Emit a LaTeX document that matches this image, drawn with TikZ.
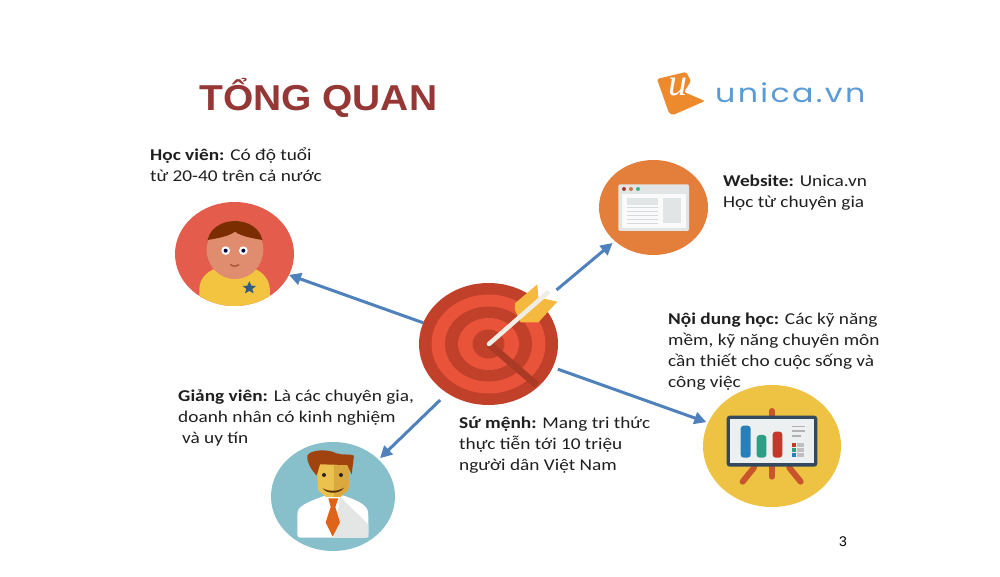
\documentclass[tikz,border=0pt]{standalone}
\usepackage{fontspec}
\setmainfont[FakeStretch=1.17]{Carlito}
\newfontfamily\titlefont[FakeStretch=1.082]{Liberation Sans}
\newfontfamily\pagefont{Liberation Sans}
\newfontfamily\logofont[LetterSpace=9,FakeStretch=1.22]{Poppins}
\newfontfamily\logoufont{Liberation Serif}
\usetikzlibrary{arrows.meta,shapes.geometric}
\definecolor{arrowblue}{HTML}{4F81BD}
\definecolor{titlered}{HTML}{953735}
\definecolor{cperson}{HTML}{E35C4C}
\definecolor{cweb}{HTML}{E37F3B}
\definecolor{cdark}{HTML}{C0402A}
\definecolor{clight}{HTML}{E8533A}
\definecolor{cshadow}{HTML}{AB3A25}
\definecolor{cteach}{HTML}{87BFCB}
\definecolor{cyel}{HTML}{EEC242}
\definecolor{cshirt}{HTML}{F2C440}
\definecolor{cskin}{HTML}{E08C6E}
\definecolor{chair}{HTML}{7A2E00}
\definecolor{cmouth}{HTML}{AA553C}
\definecolor{cstar}{HTML}{2F5F7F}
\definecolor{cwin}{HTML}{E2E5E6}
\definecolor{cwinw}{HTML}{FAFAFA}
\definecolor{cline}{HTML}{D7DADC}
\definecolor{dred}{HTML}{B03A2E}
\definecolor{dor}{HTML}{D2783C}
\definecolor{dgr}{HTML}{3CB48C}
\definecolor{cfeather}{HTML}{F5B93F}
\definecolor{cshaft}{HTML}{F0EDE6}
\definecolor{cshade}{HTML}{E4E6E6}
\definecolor{cface}{HTML}{ECC24E}
\definecolor{cfaced}{HTML}{DAA83E}
\definecolor{chair2}{HTML}{A0430F}
\definecolor{csmile}{HTML}{5A320A}
\definecolor{ctie}{HTML}{E0631A}
\definecolor{cleg}{HTML}{C8552B}
\definecolor{cboard}{HTML}{34495E}
\definecolor{cscreen}{HTML}{ECF0F1}
\definecolor{cbarb}{HTML}{2980B9}
\definecolor{cbarg}{HTML}{2F9E85}
\definecolor{cbarr}{HTML}{C0392B}
\definecolor{clogo}{HTML}{EE8A2E}
\definecolor{clogot}{HTML}{5B9BD5}
\tikzset{
  disc/.style={ellipse,inner sep=0pt,outer sep=0pt,fill=#1},
  link/.style={draw=arrowblue,line width=3pt,-{Triangle[length=12pt,width=12pt]}},
  note/.style={anchor=north west,align=left,inner sep=0pt,font=\fontsize{16.5}{20.8}\selectfont,text=black!88},
  zoomed/.style={x=0.3333pt,y=-0.3333pt}
}
\begin{document}
\begin{tikzpicture}[x=1pt,y=-1pt]
\useasboundingbox (0,0) rectangle (1000,577);
\fill[white] (0,0) rectangle (1000,577);

\node[anchor=base west,inner sep=0pt,text=titlered,font=\titlefont\bfseries\fontsize{36}{36}\selectfont] (title) at (199,110.5) {TỔNG QUAN};

% logo
\fill[clogo,rounded corners=1.5pt] (657,79) -- (686,72) -- (691,81) -- (684,92) -- (705,101) -- (673,115) -- (669,113) -- cycle;
\node[inner sep=0pt,text=white,font=\logoufont\itshape\fontsize{38}{38}\selectfont] (logou) at (678,87) {u};
\node[anchor=base west,inner sep=0pt,text=clogot,font=\logofont\fontsize{26}{26}\selectfont] (logo) at (715,103) {unica.vn};

% discs
\node[disc=cperson,minimum width=119pt,minimum height=104pt] (person) at (234.5,254) {};
\node[disc=cweb,minimum width=109pt,minimum height=95pt] (website) at (653.5,207.5) {};
\node[disc=cdark,minimum width=139pt,minimum height=122pt] (target) at (488.5,344) {};
\node[disc=cteach,minimum width=124pt,minimum height=109pt] (teacher) at (333,496.5) {};
\node[disc=cyel,minimum width=138pt,minimum height=122pt] (chart) at (772,446) {};

% person icon
\begin{scope}
\clip (234.5,254) ellipse [x radius=59.5,y radius=52];
\begin{scope}[shift={(160,190)},zoomed]
\fill[cshirt] (118,350) -- (118,295) .. controls (120,260) and (150,235) .. (185,232) -- (270,232) .. controls (305,240) and (328,265) .. (330,300) -- (330,350) -- cycle;
\fill[cskin] (225,180) ellipse [x radius=85,y radius=87];
\fill[chair] (143,150) .. controls (150,115) and (185,93) .. (225,93) .. controls (265,93) and (300,115) .. (307,150) .. controls (280,145) and (245,140) .. (225,125) .. controls (205,140) and (170,145) .. (143,150) -- cycle;
\fill[white] (197,182) circle [radius=13];
\fill[white] (250,182) circle [radius=13];
\fill[black!75!blue] (197,182) circle [radius=6];
\fill[black!75!blue] (250,182) circle [radius=6];
\draw[cmouth,line width=1.4pt,line cap=round] (212,224) .. controls (220,230) and (228,230) .. (236,224);
\fill[cstar] (268,274) -- (274,287) -- (288,288) -- (277,297) -- (281,310) -- (268,303) -- (255,310) -- (259,297) -- (248,288) -- (262,287) -- cycle;
\end{scope}
\end{scope}

% website icon
\begin{scope}[shift={(590,150)},zoomed]
\fill[cwin,rounded corners=2pt] (85,103) rectangle (297,243);
\fill[cwinw] (95,133) rectangle (287,233);
\fill[dred] (102,117) circle [radius=6];
\fill[dor] (123,117) circle [radius=6];
\fill[dgr] (144,117) circle [radius=6];
\fill[cwin] (110,145) rectangle (205,165);
\fill[cwin] (220,145) rectangle (273,220);
\foreach \yy in {172,183,194,206,218}{\fill[cline] (110,\yy) rectangle (205,\yy+3);}
\end{scope}

% target icon
\fill[clight] (488.5,344) ellipse [x radius=57,y radius=49.5];
\fill[cdark] (488.5,344) ellipse [x radius=43.5,y radius=37.5];
\fill[clight] (488.5,344) ellipse [x radius=30.5,y radius=26];
\fill[cdark] (488.5,344) ellipse [x radius=16,y radius=14.5];
\begin{scope}[shift={(400,260)},zoomed]
\draw[cshadow,line width=7pt] (267,252) -- (410,375);
\fill[cfeather] (345,130) -- (412,73) -- (415,112) -- (472,125) -- (415,187) -- (362,187) -- (345,150) -- cycle;
\draw[cshaft,line width=4.5pt,line cap=round] (267,252) -- (443,98);
\end{scope}

% teacher icon
\begin{scope}[shift={(260,435)},zoomed]
\fill[white,rounded corners=3pt] (112,308) -- (112,240) .. controls (115,210) and (160,195) .. (200,180) -- (245,180) .. controls (290,195) and (322,210) .. (325,240) -- (325,308) -- cycle;
\fill[cshade] (240,185) -- (325,268) -- (325,308) -- (222,308) -- cycle;
\fill[cface] (170,85) -- (270,85) -- (265,165) -- (240,186) -- (198,186) -- (174,165) -- cycle;
\fill[cfaced] (222,85) -- (270,85) -- (265,165) -- (240,186) -- (222,186) -- cycle;
\fill[chair2] (142,62) .. controls (150,45) and (200,40) .. (230,55) .. controls (250,62) and (270,55) .. (282,62) -- (275,118) -- (262,90) -- (180,88) -- (170,122) .. controls (155,105) and (140,85) .. (142,62) -- cycle;
\fill[black!85] (192,120) circle [radius=6];
\fill[black!85] (243,120) circle [radius=6];
\fill[csmile] (188,160) .. controls (205,170) and (235,170) .. (252,158) .. controls (240,178) and (200,178) .. (188,160) -- cycle;
\fill[ctie] (205,190) -- (235,190) -- (226,216) -- (240,262) -- (218,305) -- (197,262) -- (212,216) -- cycle;
\end{scope}

% chart icon
\begin{scope}[shift={(690,375)},zoomed]
\begin{scope}[cleg,line width=6pt,line cap=round]
\draw (245,108) -- (245,125);
\draw (245,270) -- (245,305);
\draw (192,278) -- (158,320);
\draw (298,278) -- (332,320);
\end{scope}
\fill[cboard,rounded corners=3pt] (110,122) rectangle (382,275);
\fill[cscreen] (120,132) rectangle (372,265);
\fill[cbarb,rounded corners=3pt] (152,152) rectangle (182,248);
\fill[cbarg,rounded corners=3pt] (200,180) rectangle (229,248);
\fill[cbarr,rounded corners=3pt] (248,170) rectangle (277,248);
\fill[black!30] (305,152) rectangle (345,157);
\fill[black!30] (305,166) rectangle (345,171);
\fill[black!30] (305,181) rectangle (332,186);
\fill[cbarr] (305,205) rectangle (318,216);
\fill[cbarg] (305,220) rectangle (318,231);
\fill[cbarb] (305,235) rectangle (318,246);
\fill[black!25] (322,205) rectangle (342,216);
\fill[black!25] (322,220) rectangle (342,231);
\fill[black!25] (322,235) rectangle (342,246);
\end{scope}

% connectors
\draw[link] (target.162.6) -- (person.-21.4);
\draw[link,shorten <=21pt,shorten >=3pt] (target.38.4) -- (website.221.2);
\draw[link,shorten <=10pt,shorten >=2pt] (target.230.5) -- (teacher.39.3);
\draw[link,shorten <=5.5pt,shorten >=2pt] (target.-20.6) -- (chart.160.8);

% notes
\node[note] (n1) at (150,148) {\textbf{Học viên:} Có độ tuổi\\từ 20-40 trên cả nước};
\node[note] (n2) at (723,174.5) {\textbf{Website:} Unica.vn\\Học từ chuyên gia};
\node[note] (n3) at (668,313) {\textbf{Nội dung học:} Các kỹ năng\\mềm, kỹ năng chuyên môn\\cần thiết cho cuộc sống và\\công việc};
\node[note] (n4) at (178,390) {\textbf{Giảng viên:} Là các chuyên gia,\\doanh nhân có kinh nghiệm\\\hspace*{4pt}và uy tín};
\node[note] (n5) at (459,417) {\textbf{Sứ mệnh:} Mang tri thức\\thực tiễn tới 10 triệu\\người dân Việt Nam};
\node[anchor=base,inner sep=0pt,font=\pagefont\fontsize{14}{14}\selectfont] (page) at (843,546) {3};
\end{tikzpicture}
\end{document}
